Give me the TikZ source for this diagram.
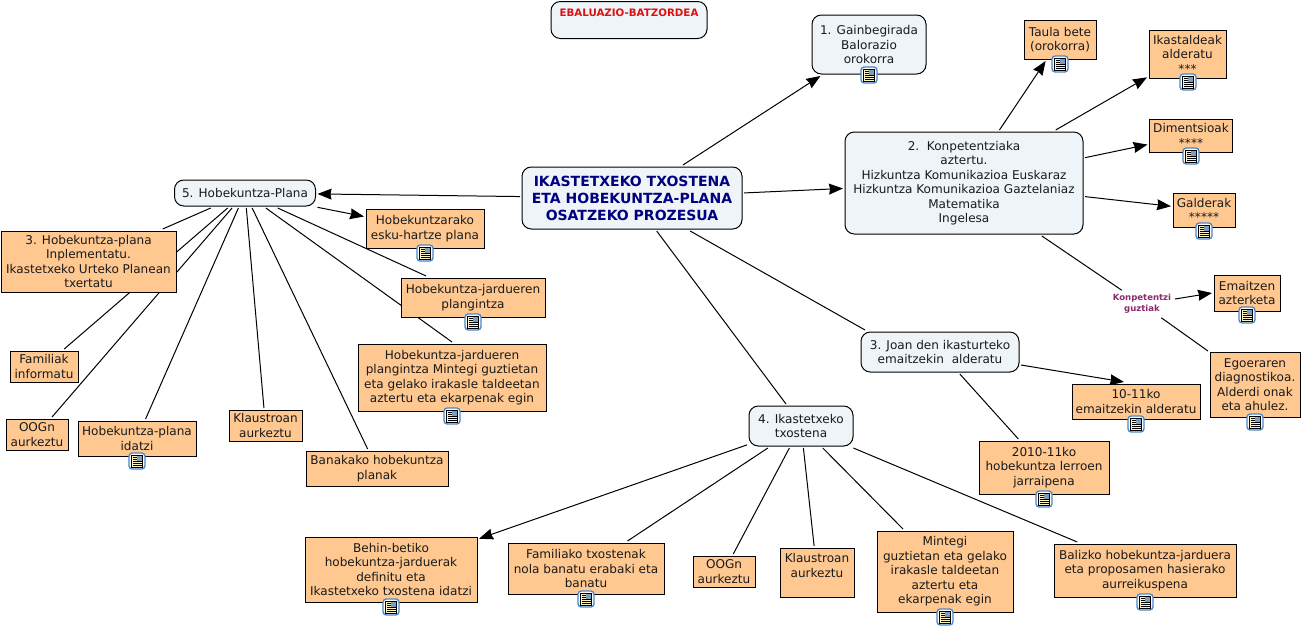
\documentclass[tikz,border=0pt]{standalone}
\usepackage{fontspec}
\setmainfont{DejaVu Sans}
\usetikzlibrary{arrows.meta,backgrounds}
\definecolor{pale}{HTML}{EEF4F7}
\definecolor{peach}{HTML}{FFC891}
\definecolor{inktext}{HTML}{1A1A1A}
\definecolor{navy}{HTML}{000080}
\definecolor{konpcol}{HTML}{8B2A6A}
\definecolor{ebalred}{HTML}{E01010}
\definecolor{iconblue}{HTML}{4A86C8}
\definecolor{pagecol}{HTML}{FFF6BE}
\definecolor{imgcol}{HTML}{7C9CC0}
\tikzset{
  sz/.style 2 args={minimum width=#1*0.75pt,minimum height=#2*0.75pt},
  basebox/.style={draw=black,line width=0.75pt,inner sep=0pt,outer sep=1.5pt,align=center,text=inktext,
    font=\fontsize{9.05}{10.9}\selectfont},
  concept/.style={basebox,fill=pale,rounded corners=7pt},
  leafbox/.style={basebox,fill=peach},
  link/.style={draw=black,line width=0.75pt},
  arr/.style={link,-{Stealth[length=10.5pt,width=8.2pt,inset=0.8pt]}},
  docicon/.pic={
    \draw[rounded corners=2.4pt,fill=white,draw=iconblue,line width=1pt] (-8,-8) rectangle (8,8);
    \draw[fill=pagecol,draw=black,line width=0.5pt] (-5.5,-6) rectangle (5.5,6);
    \fill[imgcol] (0,-5.5) rectangle (5,-0.5);
    \foreach \yy in {-3.5,-1.5,0.5,2.5,4.5}{\draw[black,line width=0.5pt] (-4,\yy) -- (\ifdim\yy pt<0pt -0.5\else 4.5\fi,\yy);}
  }
}
\begin{document}
\begin{tikzpicture}[x=0.75pt,y=-0.75pt]
\useasboundingbox (0,0) rectangle (1302,629);

\node[concept,sz={220}{62},text=navy,font=\fontsize{10.5}{12.8}\bfseries\selectfont] (center) at (632,198) {IKASTETXEKO TXOSTENA\\ETA HOBEKUNTZA-PLANA\\OSATZEKO PROZESUA};
\node[concept,sz={156}{37},text=ebalred,font=\fontsize{7.7}{11}\bfseries\selectfont] (ebal) at (629,20) {EBALUAZIO-BATZORDEA\\~};
\node[concept,sz={114}{59}] (n1) at (869,44.5) {1. Gainbegirada\\Balorazio\\orokorra};
\node[concept,sz={238}{102}] (n2) at (964,183) {2.\ \ Konpetentziaka\\aztertu.\\Hizkuntza Komunikazioa Euskaraz\\Hizkuntza Komunikazioa Gaztelaniaz\\Matematika\\Ingelesa};
\node[concept,sz={158}{40}] (n3) at (940,352) {3. Joan den ikasturteko\\emaitzekin\ \ alderatu};
\node[concept,sz={104}{40}] (n4) at (801,426) {4. Ikastetxeko\\txostena};
\node[concept,sz={141}{26}] (n5) at (245,193) {5. Hobekuntza-Plana};

\node[leafbox,sz={72}{39}] (taula) at (1060,39.5) {Taula bete\\(orokorra)};
\node[leafbox,sz={77}{48}] (ikast) at (1187.5,54) {Ikastaldeak\\alderatu\\***};
\node[leafbox,sz={83}{33}] (dim) at (1191,135.5) {Dimentsioak\\****};
\node[leafbox,sz={62}{34}] (gald) at (1204,210) {Galderak\\*****};
\node[leafbox,sz={66}{36}] (emaitzen) at (1247,293) {Emaitzen\\azterketa};
\node[leafbox,sz={90}{65}] (egoera) at (1255,384.5) {Egoeraren\\diagnostikoa.\\Alderdi onak\\eta ahulez.};
\node[leafbox,sz={128}{35}] (ten) at (1136,401.5) {10-11ko\\emaitzekin alderatu};
\node[leafbox,sz={130}{53}] (jarr) at (1044,467.5) {2010-11ko\\hobekuntza lerroen\\jarraipena};
\node[leafbox,sz={74}{49}] (klausb) at (817,572.5) {Klaustroan\\aurkeztu\\~};
\node[leafbox,sz={136}{81}] (mint) at (945,571.5) {Mintegi\\guztietan eta gelako\\irakasle taldeetan\\aztertu eta\\ekarpenak egin};
\node[leafbox,sz={182}{53}] (baliz) at (1145,570.5) {Balizko hobekuntza-jarduera\\eta proposamen hasierako\\aurreikuspena};
\node[leafbox,sz={172}{65}] (behin) at (391,569.5) {Behin-betiko\\hobekuntza-jarduerak\\definitu eta\\Ikastetxeko txostena idatzi};
\node[leafbox,sz={156}{51}] (famtx) at (586,568.5) {Familiako txostenak\\nola banatu erabaki eta\\banatu};
\node[leafbox,sz={62}{31}] (oogb) at (724,571.5) {OOGn\\aurkeztu};
\node[leafbox,sz={175}{61}] (hpimp) at (88.5,261.5) {3. Hobekuntza-plana\\Inplementatu.\\Ikastetxeko Urteko Planean\\txertatu};
\node[leafbox,sz={68}{31}] (fam) at (44,366.5) {Familiak\\informatu};
\node[leafbox,sz={62}{31}] (oogl) at (37,434.5) {OOGn\\aurkeztu};
\node[leafbox,sz={118}{35}] (idatzi) at (137,438.5) {Hobekuntza-plana\\idatzi};
\node[leafbox,sz={73}{31}] (klausl) at (265.5,425.5) {Klaustroan\\aurkeztu};
\node[leafbox,sz={142}{35}] (banak) at (377,468.5) {Banakako hobekuntza\\planak};
\node[leafbox,sz={118}{39}] (eskuh) at (425,228.5) {Hobekuntzarako\\esku-hartze plana};
\node[leafbox,sz={144}{39}] (plang) at (473,297.5) {Hobekuntza-jardueren\\plangintza};
\node[leafbox,sz={188}{67}] (plangl) at (452,377.5) {Hobekuntza-jardueren\\plangintza Mintegi guztietan\\eta gelako irakasle taldeetan\\aztertu eta ekarpenak egin};
\node[inner sep=0pt,outer sep=3pt,align=center,text=konpcol,font=\fontsize{6.4}{8.4}\bfseries\selectfont] (konp) at (1142,304) {Konpetentzi\\guztiak};

\begin{pgfonlayer}{background}
\fill[white] (0,0) rectangle (1302,629);
\draw[arr] (center) -- (n1);
\draw[arr] (center) -- (n2);
\draw[arr] (center) -- (n5);
\draw[link] (center) -- ([shift={(-75,0)}]n3.north);
\draw[link] (center) -- ([shift={(-15,0)}]n4.north);
\draw[arr] (n2) -- (taula);
\draw[arr] (n2) -- (ikast);
\draw[arr] (n2) -- (dim);
\draw[arr] (n2) -- (gald);
\draw[link] (n2) -- (konp);
\draw[arr] ([shift={(0,-5)}]konp.east) -- (emaitzen.west);
\draw[link] (konp) -- (egoera);
\draw[arr] ([shift={(0,13)}]n3.east) -- ([shift={(-12,0)}]ten.north);
\draw[link] (n3) -- (jarr);
\draw[arr] (n4) -- (behin);
\draw[link] (n4) -- (famtx);
\draw[link] (n4) -- (oogb);
\draw[link] (n4) -- (klausb);
\draw[link] (n4) -- (mint);
\draw[link] (n4) -- (baliz);
\draw[arr] (n5) -- (eskuh);
\draw[link] (n5) -- (plang);
\draw[link] (n5) -- (plangl.north);
\draw[link] (n5) -- (banak);
\draw[link] (n5) -- (klausl);
\draw[link] (n5) -- (idatzi);
\draw[link] (n5) -- (oogl);
\draw[link] (n5) -- (fam);
\draw[link] (n5) -- (hpimp);
\end{pgfonlayer}

\pic at (869,75) {docicon};
\pic at (1060,64) {docicon};
\pic at (1188,82) {docicon};
\pic at (1191,156) {docicon};
\pic at (1204,231) {docicon};
\pic at (1247,315) {docicon};
\pic at (1255,422) {docicon};
\pic at (1136,424) {docicon};
\pic at (1044,499) {docicon};
\pic at (945,617) {docicon};
\pic at (1145,602) {docicon};
\pic at (391,607) {docicon};
\pic at (586,599) {docicon};
\pic at (137,461) {docicon};
\pic at (425,253) {docicon};
\pic at (473,322) {docicon};
\pic at (452,416) {docicon};
\end{tikzpicture}
\end{document}
